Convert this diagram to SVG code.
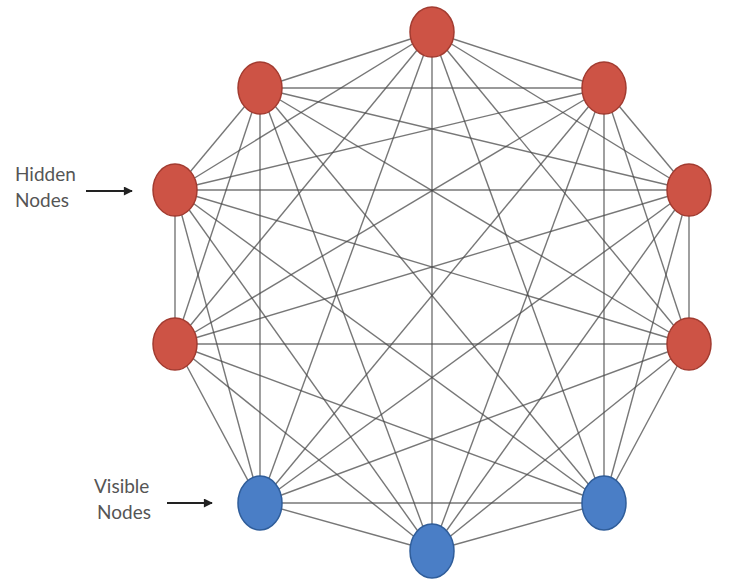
<svg xmlns="http://www.w3.org/2000/svg" width="729" height="581" viewBox="0 0 729 581">
<defs>
<style>
.e{stroke:#4a4a4a;stroke-opacity:0.75;stroke-width:1.4;fill:none}
.hid{fill:#cd5345;stroke:#a23b30;stroke-width:1.5}
.vis{fill:#4a7ec6;stroke:#2f5d9a;stroke-width:1.5}
.lbl{font-family:Lato,"Open Sans",sans-serif;font-size:19px;fill:#555}
.arr{stroke:#222;stroke-width:2}
</style>
<marker id="ah" viewBox="0 0 10 10" refX="9" refY="5" markerWidth="5" markerHeight="4.5" orient="auto" markerUnits="strokeWidth">
<path d="M0,0 L10,5 L0,10 z" fill="#222"/>
</marker>
</defs>
<rect width="729" height="581" fill="#ffffff"/>
<g id="connectors">
<line class="e" x1="432" y1="32" x2="260" y2="88"/>
<line class="e" x1="432" y1="32" x2="604" y2="88"/>
<line class="e" x1="432" y1="32" x2="175" y2="190"/>
<line class="e" x1="432" y1="32" x2="689" y2="190"/>
<line class="e" x1="432" y1="32" x2="175" y2="344"/>
<line class="e" x1="432" y1="32" x2="689" y2="344"/>
<line class="e" x1="432" y1="32" x2="260" y2="503"/>
<line class="e" x1="432" y1="32" x2="604" y2="503"/>
<line class="e" x1="432" y1="32" x2="432" y2="551"/>
<line class="e" x1="260" y1="88" x2="604" y2="88"/>
<line class="e" x1="260" y1="88" x2="175" y2="190"/>
<line class="e" x1="260" y1="88" x2="689" y2="190"/>
<line class="e" x1="260" y1="88" x2="175" y2="344"/>
<line class="e" x1="260" y1="88" x2="689" y2="344"/>
<line class="e" x1="260" y1="88" x2="260" y2="503"/>
<line class="e" x1="260" y1="88" x2="604" y2="503"/>
<line class="e" x1="260" y1="88" x2="432" y2="551"/>
<line class="e" x1="604" y1="88" x2="175" y2="190"/>
<line class="e" x1="604" y1="88" x2="689" y2="190"/>
<line class="e" x1="604" y1="88" x2="175" y2="344"/>
<line class="e" x1="604" y1="88" x2="689" y2="344"/>
<line class="e" x1="604" y1="88" x2="260" y2="503"/>
<line class="e" x1="604" y1="88" x2="604" y2="503"/>
<line class="e" x1="604" y1="88" x2="432" y2="551"/>
<line class="e" x1="175" y1="190" x2="689" y2="190"/>
<line class="e" x1="175" y1="190" x2="175" y2="344"/>
<line class="e" x1="175" y1="190" x2="689" y2="344"/>
<line class="e" x1="175" y1="190" x2="260" y2="503"/>
<line class="e" x1="175" y1="190" x2="604" y2="503"/>
<line class="e" x1="175" y1="190" x2="432" y2="551"/>
<line class="e" x1="689" y1="190" x2="175" y2="344"/>
<line class="e" x1="689" y1="190" x2="689" y2="344"/>
<line class="e" x1="689" y1="190" x2="260" y2="503"/>
<line class="e" x1="689" y1="190" x2="604" y2="503"/>
<line class="e" x1="689" y1="190" x2="432" y2="551"/>
<line class="e" x1="175" y1="344" x2="689" y2="344"/>
<line class="e" x1="175" y1="344" x2="260" y2="503"/>
<line class="e" x1="175" y1="344" x2="604" y2="503"/>
<line class="e" x1="175" y1="344" x2="432" y2="551"/>
<line class="e" x1="689" y1="344" x2="260" y2="503"/>
<line class="e" x1="689" y1="344" x2="604" y2="503"/>
<line class="e" x1="689" y1="344" x2="432" y2="551"/>
<line class="e" x1="260" y1="503" x2="604" y2="503"/>
<line class="e" x1="260" y1="503" x2="432" y2="551"/>
<line class="e" x1="604" y1="503" x2="432" y2="551"/>
</g>
<g id="node-top"><ellipse class="hid" cx="432" cy="32" rx="22" ry="25"/></g>
<g id="node-top-left"><ellipse class="hid" cx="260" cy="88" rx="22" ry="26"/></g>
<g id="node-top-right"><ellipse class="hid" cx="604" cy="88" rx="22" ry="26"/></g>
<g id="node-left-1"><ellipse class="hid" cx="175" cy="190" rx="22" ry="26"/></g>
<g id="node-right-1"><ellipse class="hid" cx="689" cy="190" rx="22" ry="26"/></g>
<g id="node-left-2"><ellipse class="hid" cx="175" cy="344" rx="22" ry="26"/></g>
<g id="node-right-2"><ellipse class="hid" cx="689" cy="344" rx="22" ry="26"/></g>
<g id="node-bottom-left"><ellipse class="vis" cx="260" cy="503" rx="22" ry="27"/></g>
<g id="node-bottom-right"><ellipse class="vis" cx="604" cy="503" rx="22" ry="27"/></g>
<g id="node-bottom"><ellipse class="vis" cx="432" cy="551" rx="22" ry="27"/></g>
<g id="label-hidden">
<text class="lbl" x="15" y="181">Hidden</text>
<text class="lbl" x="15" y="207">Nodes</text>
<line class="arr" x1="86" y1="191" x2="132" y2="191" marker-end="url(#ah)"/>
</g>
<g id="label-visible">
<text class="lbl" x="94" y="493">Visible</text>
<text class="lbl" x="97" y="519">Nodes</text>
<line class="arr" x1="167" y1="503" x2="212" y2="503" marker-end="url(#ah)"/>
</g>
</svg>
